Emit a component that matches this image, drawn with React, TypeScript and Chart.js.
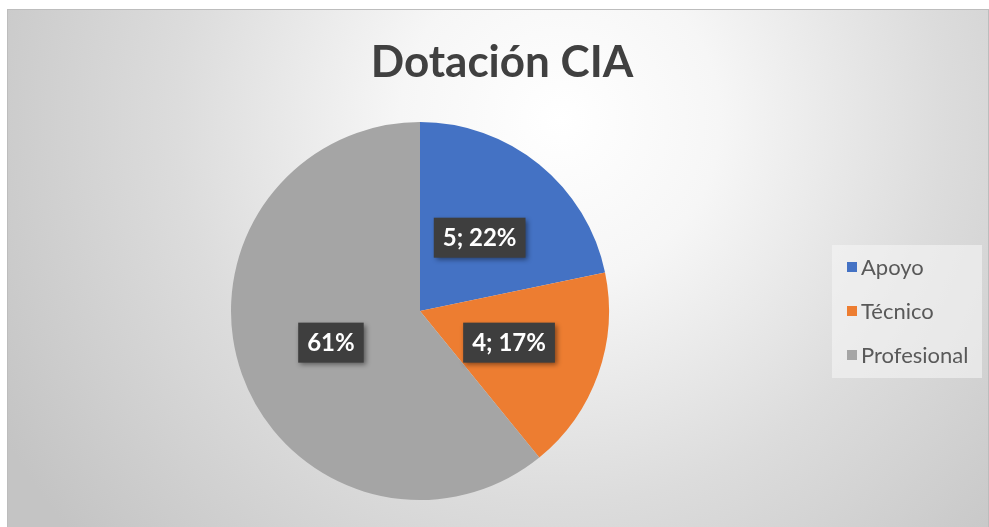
import React, { useEffect, useRef } from "react";
import { Chart, registerables } from "chart.js";

Chart.register(...registerables);

const TITLE = "Dotación CIA";
const categories = ["Apoyo", "Técnico", "Profesional"];
const values = [5, 4, 14];
const showValueInLabel = [true, true, false];
const colors = ["#4472C4", "#ED7D31", "#A5A5A5"];

const W = 989;
const H = 527;
const FONT = "Lato, 'Open Sans', sans-serif";

const backgroundPlugin = {
  id: "bgPlugin",
  beforeDraw(chart: any) {
    const ctx = chart.ctx;
    ctx.save();
    ctx.fillStyle = "#ffffff";
    ctx.fillRect(0, 0, W, H);
    const g = ctx.createRadialGradient(560, 120, 0, 560, 120, 640);
    g.addColorStop(0, "#ffffff");
    g.addColorStop(0.25, "#f6f6f6");
    g.addColorStop(0.6, "#dcdcdc");
    g.addColorStop(1, "#c4c4c4");
    ctx.fillStyle = g;
    ctx.fillRect(7, 9, W - 7, H - 9);
    ctx.strokeStyle = "#bdbdbd";
    ctx.lineWidth = 1;
    ctx.strokeRect(7.5, 9.5, W - 8, H - 9);
    ctx.restore();
  },
};

const overlayPlugin = {
  id: "overlayPlugin",
  afterDatasetsDraw(chart: any) {
    const ctx = chart.ctx;
    const meta = chart.getDatasetMeta(0);
    const data = chart.data.datasets[0].data as number[];
    const total = data.reduce((a, b) => a + b, 0);
    ctx.save();
    ctx.font = `bold 24px ${FONT}`;
    ctx.textAlign = "center";
    ctx.textBaseline = "middle";
    meta.data.forEach((arc: any, i: number) => {
      const pos = arc.tooltipPosition();
      const pct = Math.round((data[i] / total) * 100) + "%";
      const txt = showValueInLabel[i] ? `${data[i]}; ${pct}` : pct;
      const tw = ctx.measureText(txt).width;
      const bw = tw + 18;
      const bh = 40;
      ctx.save();
      ctx.shadowColor = "rgba(0,0,0,0.45)";
      ctx.shadowBlur = 5;
      ctx.shadowOffsetX = 2;
      ctx.shadowOffsetY = 2;
      ctx.fillStyle = "#3e3e3e";
      ctx.fillRect(pos.x - bw / 2, pos.y - bh / 2, bw, bh);
      ctx.restore();
      ctx.fillStyle = "#ffffff";
      ctx.fillText(txt, pos.x, pos.y + 1);
    });
    ctx.restore();
  },
  afterDraw(chart: any) {
    const ctx = chart.ctx;
    ctx.save();
    // title
    ctx.font = `bold 44px ${FONT}`;
    ctx.fillStyle = "#404040";
    ctx.textAlign = "center";
    ctx.textBaseline = "middle";
    ctx.fillText(TITLE, 502, 63);
    // legend
    ctx.fillStyle = "rgba(245,245,245,0.6)";
    ctx.fillRect(832, 245, 150, 133);
    ctx.font = `22px ${FONT}`;
    ctx.textAlign = "left";
    const labels = chart.data.labels as string[];
    labels.forEach((lab, i) => {
      const cy = 267 + i * 44;
      ctx.fillStyle = colors[i];
      ctx.fillRect(847, cy - 5, 10, 10);
      ctx.fillStyle = "#595959";
      ctx.fillText(lab, 861, cy + 1);
    });
    ctx.restore();
  },
};

export default function App() {
  const ref = useRef<HTMLCanvasElement | null>(null);
  useEffect(() => {
    if (!ref.current) return;
    const chart = new Chart(ref.current, {
      type: "pie",
      data: {
        labels: categories,
        datasets: [
          {
            data: values,
            backgroundColor: colors,
            borderWidth: 0,
          },
        ],
      },
      options: {
        animation: false,
        responsive: false,
        layout: { padding: { left: 231, right: 380, top: 122, bottom: 27 } },
        plugins: {
          legend: { display: false },
          tooltip: { enabled: false },
          title: { display: false },
        },
      },
      plugins: [backgroundPlugin, overlayPlugin],
    });
    return () => chart.destroy();
  }, []);
  return (
    <div style={{ position: "absolute", left: 0, top: 0, width: W, height: H }}>
      <canvas ref={ref} width={W} height={H} style={{ display: "block" }} />
    </div>
  );
}
